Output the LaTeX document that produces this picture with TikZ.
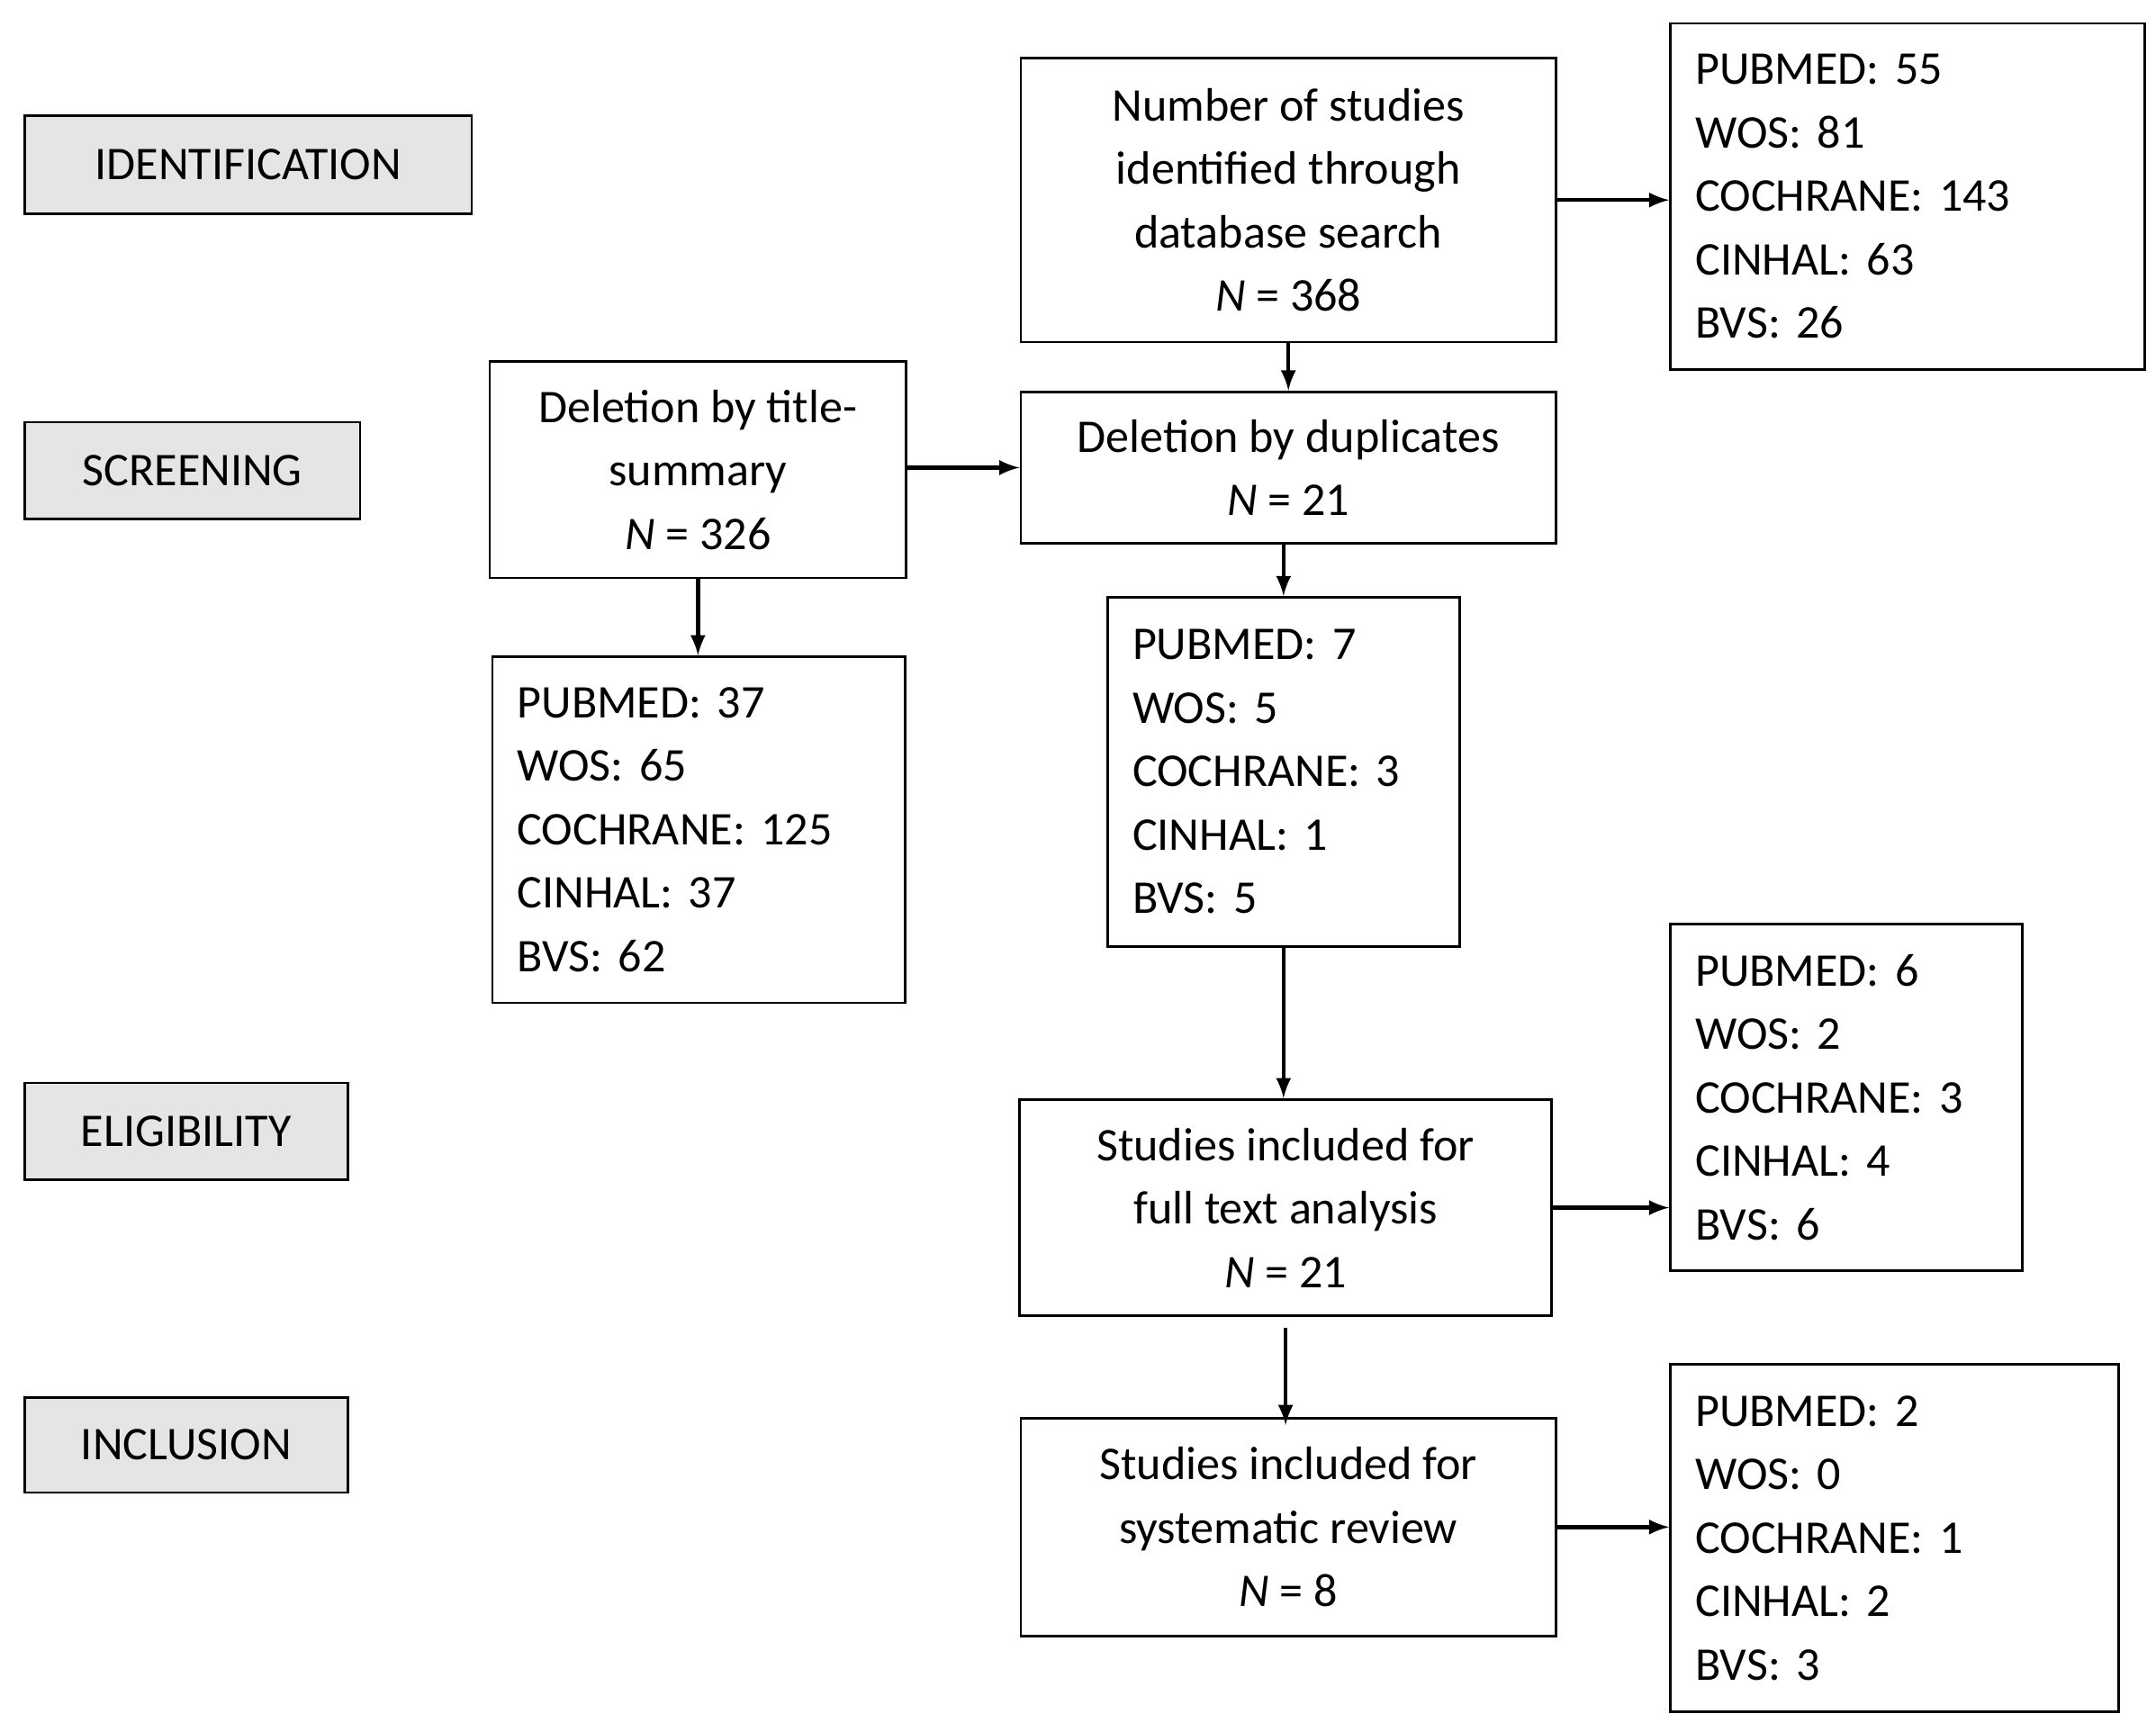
\documentclass[tikz,border=0pt]{standalone}
\usepackage{fontspec}
\setmainfont{Carlito}
\begin{document}
\begin{tikzpicture}[x=0.5pt,y=-0.5pt,
 box/.style={draw,line width=0.9pt,inner sep=0pt,font=\fontsize{17}{23}\selectfont,align=center},
 stage/.style={box,fill=gray!20},
 lst/.style={box,align=left},
 arr/.style={-latex,line width=1.5pt}]
\useasboundingbox (0,0) rectangle (1563,1255);
\newcommand\bx[7]{\node[#1,minimum width=#4*0.5pt-#2*0.5pt,minimum height=#5*0.5pt-#3*0.5pt] (#6) at ({(#2+#4)/2},{(#3+#5)/2}) {#7};}
\newcommand\lb[6]{\node[lst,minimum width=#3*0.5pt-#1*0.5pt,minimum height=#4*0.5pt-#2*0.5pt,text width=#3*0.5pt-#1*0.5pt-18pt] (#5) at ({(#1+#3)/2},{(#2+#4)/2}) {#6};}
\bx{stage}{18}{84}{342}{155}{ide}{IDENTIFICATION}
\bx{stage}{18}{306}{261}{376}{scr}{SCREENING}
\bx{stage}{18}{785}{252}{855}{eli}{ELIGIBILITY}
\bx{stage}{18}{1013}{252}{1082}{inc}{INCLUSION}
\bx{box}{740}{42}{1128}{248}{num}{Number of studies\\identified through\\database search\\\textit{N} = 368}
\bx{box}{740}{284}{1128}{394}{dup}{Deletion by duplicates\\\textit{N} = 21}
\bx{box}{355}{262}{657}{419}{tit}{Deletion by title-\\summary\\\textit{N} = 326}
\bx{box}{739}{797}{1125}{954}{full}{Studies included for\\full text analysis\\\textit{N} = 21}
\bx{box}{740}{1028}{1128}{1186}{sys}{Studies included for\\systematic review\\\textit{N} = 8}
\lb{1211}{17}{1555}{268}{l1}{PUBMED: 55\\WOS: 81\\COCHRANE: 143\\CINHAL: 63\\BVS: 26}
\lb{357}{476}{656}{727}{l2}{PUBMED: 37\\WOS: 65\\COCHRANE: 125\\CINHAL: 37\\BVS: 62}
\lb{803}{433}{1058}{686}{l3}{PUBMED: 7\\WOS: 5\\COCHRANE: 3\\CINHAL: 1\\BVS: 5}
\lb{1211}{670}{1466}{921}{l4}{PUBMED: 6\\WOS: 2\\COCHRANE: 3\\CINHAL: 4\\BVS: 6}
\lb{1211}{989}{1536}{1241}{l5}{PUBMED: 2\\WOS: 0\\COCHRANE: 1\\CINHAL: 2\\BVS: 3}
\draw[arr] (num.east) -- (num.east -| l1.west);
\draw[arr] (num.south) -- (dup.north);
\draw[arr] (tit.east |- dup.west) -- (dup.west);
\draw[arr] (tit.south) -- (l2.north -| tit.south);
\draw[arr] (l3.north |- dup.south) -- (l3.north);
\draw[arr] (l3.south) -- (full.north -| l3.south);
\draw[arr] (full.east) -- (full.east -| l4.west);
\draw[arr] (full.south) ++(0,8) -- ([yshift=-3pt]sys.north -| full.south);
\draw[arr] (sys.east) -- (sys.east -| l5.west);
\end{tikzpicture}
\end{document}
